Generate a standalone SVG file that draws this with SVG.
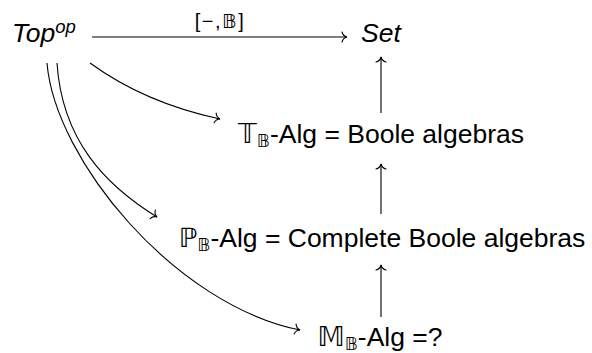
<svg xmlns="http://www.w3.org/2000/svg" width="592" height="353" viewBox="0 0 592 353">
  <style>
    .t { font-family: "Liberation Sans", Arial, sans-serif; font-size: 26.5px; fill: #000; }
    .it { font-style: italic; }
    .bb { font-family: "DejaVu Sans", "Noto Sans", sans-serif; fill: #000; }
    .sub { font-size: 18px; }
    .lbl { font-family: "Liberation Sans", Arial, sans-serif; font-size: 20px; fill: #000; letter-spacing: 1.5px; }
    .conn line, .conn path { stroke: #000; stroke-width: 1.1; fill: none; marker-end: url(#ah); }
  </style>
  <defs>
    <marker id="ah" markerUnits="userSpaceOnUse" viewBox="-7 -7 9 14" markerWidth="9" markerHeight="14" refX="0" refY="0" orient="auto" overflow="visible">
      <path d="M -5,-5 C -4.3,-2.2 -2,-0.5 0,0 C -2,0.5 -4.3,2.2 -5,5" fill="none" stroke="#000" stroke-width="1.1" stroke-linecap="round"/>
    </marker>
  </defs>

  <g id="node-top">
    <text class="t it" x="12" y="42">Top<tspan font-size="18.5" dy="-9">op</tspan></text>
  </g>
  <g id="node-set">
    <text class="t it" x="381" y="42" text-anchor="middle">Set</text>
  </g>
  <g id="node-boole">
    <text class="t" x="381" y="143" text-anchor="middle"><tspan class="bb">𝕋</tspan><tspan class="bb sub" dy="4">𝔹</tspan><tspan dy="-4">-Alg = Boole algebras</tspan></text>
  </g>
  <g id="node-complete">
    <text class="t" x="382" y="247" text-anchor="middle"><tspan class="bb">ℙ</tspan><tspan class="bb sub" dy="4">𝔹</tspan><tspan dy="-4">-Alg = Complete Boole algebras</tspan></text>
  </g>
  <g id="node-m">
    <text class="t" x="380" y="346" text-anchor="middle"><tspan class="bb">𝕄</tspan><tspan class="bb sub" dy="4">𝔹</tspan><tspan dy="-4">-Alg =?</tspan></text>
  </g>

  <g id="connectors" class="conn">
    <line x1="92" y1="37" x2="347" y2="37"/>
    <text class="lbl" x="220" y="28" text-anchor="middle">[−,<tspan class="bb">𝔹</tspan>]</text>
    <line x1="381" y1="113" x2="381" y2="57"/>
    <line x1="381" y1="214" x2="381" y2="164"/>
    <line x1="381" y1="317" x2="381" y2="265"/>
    <path d="M 90,63 Q 145,103 220,119"/>
    <path d="M 57,63 C 62,140 105,185 157,217"/>
    <path d="M 47,63 C 55,160 175,305 300,330"/>
  </g>
</svg>
